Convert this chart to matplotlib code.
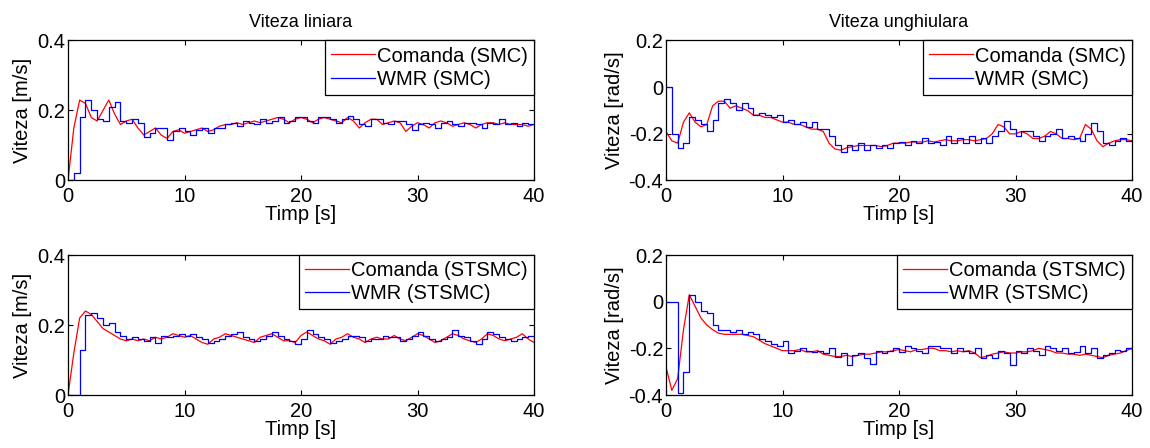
import numpy as np
import matplotlib
matplotlib.use("Agg")
import matplotlib.pyplot as plt

plt.rcParams['font.family'] = ['Liberation Sans', 'DejaVu Sans']

# time grid, 0.5 s sampling
time = np.linspace(0, 40, 81)

# Viteza liniara - SMC
lin_cmd_smc = [0.0, 0.15, 0.23, 0.22, 0.18, 0.17, 0.20, 0.23, 0.19, 0.16,
               0.17, 0.175, 0.15, 0.13, 0.14, 0.15, 0.13, 0.12, 0.14, 0.145,
               0.135, 0.14, 0.145, 0.15, 0.14, 0.145, 0.155, 0.16, 0.16, 0.165,
               0.16, 0.165, 0.17, 0.165, 0.17, 0.175, 0.18, 0.175, 0.165, 0.175,
               0.18, 0.175, 0.165, 0.175, 0.18, 0.175, 0.17, 0.165, 0.18, 0.17,
               0.15, 0.165, 0.175, 0.175, 0.16, 0.165, 0.17, 0.165, 0.14, 0.155,
               0.165, 0.16, 0.15, 0.165, 0.17, 0.165, 0.155, 0.16, 0.165, 0.16,
               0.15, 0.16, 0.165, 0.165, 0.16, 0.165, 0.16, 0.16, 0.16, 0.155,
               0.16]
lin_wmr_smc = [0.0, 0.02, 0.18, 0.23, 0.20, 0.175, 0.17, 0.21, 0.225, 0.17,
               0.165, 0.175, 0.165, 0.125, 0.135, 0.15, 0.15, 0.115, 0.14, 0.15,
               0.14, 0.13, 0.145, 0.15, 0.135, 0.15, 0.15, 0.16, 0.165, 0.155,
               0.17, 0.165, 0.16, 0.175, 0.165, 0.17, 0.18, 0.165, 0.17, 0.18,
               0.18, 0.17, 0.165, 0.18, 0.18, 0.175, 0.165, 0.175, 0.185, 0.175,
               0.16, 0.155, 0.175, 0.175, 0.165, 0.16, 0.17, 0.17, 0.16, 0.145,
               0.16, 0.165, 0.16, 0.15, 0.165, 0.17, 0.16, 0.155, 0.165, 0.165,
               0.16, 0.15, 0.165, 0.16, 0.175, 0.16, 0.165, 0.155, 0.165, 0.16,
               0.16]

# Viteza unghiulara - SMC
ang_cmd_smc = [-0.19, -0.23, -0.24, -0.15, -0.11, -0.15, -0.17, -0.16, -0.08, -0.06,
               -0.06, -0.09, -0.08, -0.09, -0.10, -0.12, -0.12, -0.13, -0.13, -0.14,
               -0.15, -0.15, -0.16, -0.16, -0.17, -0.18, -0.18, -0.19, -0.24, -0.265,
               -0.27, -0.26, -0.255, -0.25, -0.25, -0.25, -0.25, -0.255, -0.25, -0.24,
               -0.24, -0.24, -0.235, -0.235, -0.235, -0.23, -0.235, -0.23, -0.225, -0.23,
               -0.23, -0.225, -0.225, -0.23, -0.225, -0.22, -0.20, -0.16, -0.17, -0.20,
               -0.20, -0.19, -0.20, -0.22, -0.22, -0.21, -0.19, -0.20, -0.22, -0.22,
               -0.225, -0.22, -0.16, -0.18, -0.23, -0.255, -0.24, -0.23, -0.225, -0.225,
               -0.23]
ang_wmr_smc = [0.0, -0.2, -0.26, -0.24, -0.13, -0.14, -0.16, -0.19, -0.14, -0.07,
               -0.05, -0.07, -0.10, -0.07, -0.09, -0.12, -0.11, -0.12, -0.13, -0.12,
               -0.15, -0.14, -0.16, -0.15, -0.17, -0.15, -0.18, -0.18, -0.21, -0.25,
               -0.28, -0.25, -0.27, -0.24, -0.27, -0.25, -0.26, -0.25, -0.26, -0.24,
               -0.235, -0.25, -0.23, -0.24, -0.22, -0.24, -0.235, -0.25, -0.21, -0.24,
               -0.22, -0.24, -0.21, -0.24, -0.22, -0.24, -0.21, -0.19, -0.145, -0.18,
               -0.21, -0.19, -0.19, -0.21, -0.23, -0.21, -0.20, -0.18, -0.22, -0.21,
               -0.22, -0.23, -0.20, -0.155, -0.19, -0.24, -0.25, -0.23, -0.22, -0.23,
               -0.23]

# Viteza liniara - STSMC
lin_cmd_st = [0.0, 0.12, 0.22, 0.24, 0.23, 0.21, 0.19, 0.18, 0.17, 0.16,
              0.155, 0.16, 0.155, 0.16, 0.155, 0.165, 0.16, 0.165, 0.175, 0.17,
              0.165, 0.17, 0.16, 0.15, 0.145, 0.16, 0.165, 0.175, 0.17, 0.165,
              0.16, 0.155, 0.15, 0.165, 0.17, 0.175, 0.165, 0.155, 0.155, 0.15,
              0.17, 0.18, 0.17, 0.16, 0.155, 0.145, 0.16, 0.165, 0.175, 0.165,
              0.16, 0.15, 0.16, 0.165, 0.16, 0.16, 0.17, 0.16, 0.155, 0.165,
              0.175, 0.17, 0.16, 0.15, 0.155, 0.165, 0.175, 0.17, 0.16, 0.155,
              0.15, 0.16, 0.175, 0.17, 0.16, 0.155, 0.16, 0.165, 0.175, 0.16,
              0.15]
lin_wmr_st = [0.0, 0.0, 0.13, 0.23, 0.235, 0.22, 0.20, 0.205, 0.18, 0.17,
              0.16, 0.165, 0.16, 0.155, 0.165, 0.15, 0.17, 0.165, 0.17, 0.175,
              0.17, 0.175, 0.165, 0.16, 0.15, 0.155, 0.16, 0.17, 0.175, 0.18,
              0.165, 0.16, 0.155, 0.16, 0.17, 0.18, 0.17, 0.16, 0.155, 0.145,
              0.16, 0.185, 0.175, 0.165, 0.16, 0.15, 0.155, 0.16, 0.17, 0.17,
              0.165, 0.155, 0.16, 0.16, 0.17, 0.165, 0.165, 0.155, 0.16, 0.17,
              0.18, 0.17, 0.16, 0.155, 0.16, 0.165, 0.185, 0.17, 0.165, 0.155,
              0.145, 0.16, 0.18, 0.175, 0.165, 0.16, 0.155, 0.16, 0.165, 0.17,
              0.155]

# Viteza unghiulara - STSMC
ang_cmd_st = [-0.28, -0.38, -0.33, -0.12, 0.03, -0.02, -0.07, -0.10, -0.12, -0.135,
              -0.14, -0.14, -0.14, -0.14, -0.145, -0.15, -0.165, -0.18, -0.19, -0.20,
              -0.21, -0.21, -0.21, -0.205, -0.215, -0.215, -0.21, -0.225, -0.23, -0.235,
              -0.235, -0.23, -0.235, -0.23, -0.225, -0.225, -0.22, -0.215, -0.215, -0.21,
              -0.205, -0.21, -0.215, -0.205, -0.205, -0.20, -0.20, -0.21, -0.21, -0.215,
              -0.21, -0.215, -0.21, -0.22, -0.24, -0.235, -0.225, -0.22, -0.215, -0.22,
              -0.22, -0.215, -0.215, -0.21, -0.20, -0.205, -0.21, -0.22, -0.22, -0.225,
              -0.225, -0.23, -0.225, -0.23, -0.235, -0.24, -0.23, -0.225, -0.22, -0.21,
              -0.20]
ang_wmr_st = [0.0, 0.0, -0.39, -0.30, 0.03, 0.0, -0.04, -0.05, -0.10, -0.12,
              -0.12, -0.13, -0.12, -0.14, -0.13, -0.14, -0.16, -0.17, -0.18, -0.19,
              -0.17, -0.22, -0.21, -0.20, -0.21, -0.215, -0.21, -0.22, -0.20, -0.235,
              -0.22, -0.27, -0.23, -0.22, -0.24, -0.265, -0.21, -0.22, -0.21, -0.20,
              -0.215, -0.19, -0.20, -0.21, -0.22, -0.19, -0.19, -0.20, -0.20, -0.22,
              -0.20, -0.21, -0.22, -0.20, -0.24, -0.23, -0.24, -0.21, -0.22, -0.27,
              -0.21, -0.22, -0.20, -0.21, -0.23, -0.19, -0.20, -0.21, -0.20, -0.22,
              -0.215, -0.19, -0.22, -0.20, -0.24, -0.23, -0.22, -0.205, -0.21, -0.20,
              -0.21]

x_ticks = [0, 10, 20, 30, 40]
lin_ticks = [0, 0.2, 0.4]
lin_tick_labels = ['0', '0.2', '0.4']
ang_ticks = [-0.4, -0.2, 0, 0.2]
ang_tick_labels = ['-0.4', '-0.2', '0', '0.2']

fig = plt.figure(figsize=(11.5, 4.48), dpi=100)

W, H = 1150.0, 448.0
def make_ax(x0, x1, y0, y1):
    return fig.add_axes([x0 / W, 1 - y1 / H, (x1 - x0) / W, (y1 - y0) / H])

panels = [
    (make_ax(68, 534, 40.5, 180.5), lin_cmd_smc, lin_wmr_smc, 'SMC', 'lin', 'Viteza liniara'),
    (make_ax(666, 1132, 40.5, 180.5), ang_cmd_smc, ang_wmr_smc, 'SMC', 'ang', 'Viteza unghiulara'),
    (make_ax(68, 534, 255, 395), lin_cmd_st, lin_wmr_st, 'STSMC', 'lin', None),
    (make_ax(666, 1132, 255, 395), ang_cmd_st, ang_wmr_st, 'STSMC', 'ang', None),
]

fs = 14.5
for ax, cmd, wmr, ctrl, kind, title in panels:
    ax.plot(time, cmd, color='red', lw=0.9, label='Comanda (%s)' % ctrl)
    ax.plot(time, wmr, color='blue', lw=0.9, drawstyle='steps-post', label='WMR (%s)' % ctrl)
    ax.set_xlim(0, 40)
    ax.set_xticks(x_ticks)
    ax.set_xticklabels([str(v) for v in x_ticks])
    if kind == 'lin':
        ax.set_ylim(0, 0.4)
        ax.set_yticks(lin_ticks)
        ax.set_yticklabels(lin_tick_labels)
        ax.set_ylabel('Viteza [m/s]', fontsize=fs, labelpad=4)
    else:
        ax.set_ylim(-0.4, 0.2)
        ax.set_yticks(ang_ticks)
        ax.set_yticklabels(ang_tick_labels)
        ax.set_ylabel('Viteza [rad/s]', fontsize=fs, labelpad=3)
    ax.set_xlabel('Timp [s]', fontsize=fs, labelpad=-1)
    if title:
        ax.set_title(title, fontsize=13, pad=10)
    ax.tick_params(direction='in', length=3.5, width=0.8, labelsize=fs,
                   top=True, right=True)
    ax.tick_params(axis='y', pad=2)
    ax.tick_params(axis='x', pad=5)
    for s in ax.spines.values():
        s.set_linewidth(0.9)
    leg = ax.legend(loc='upper right', borderaxespad=0, fancybox=False,
                    edgecolor='black', framealpha=1, fontsize=fs,
                    handlelength=2.2, handletextpad=0.1, labelspacing=0.2,
                    borderpad=0.3)
    leg.get_frame().set_linewidth(0.9)

fig.savefig('out.png', dpi=100)
